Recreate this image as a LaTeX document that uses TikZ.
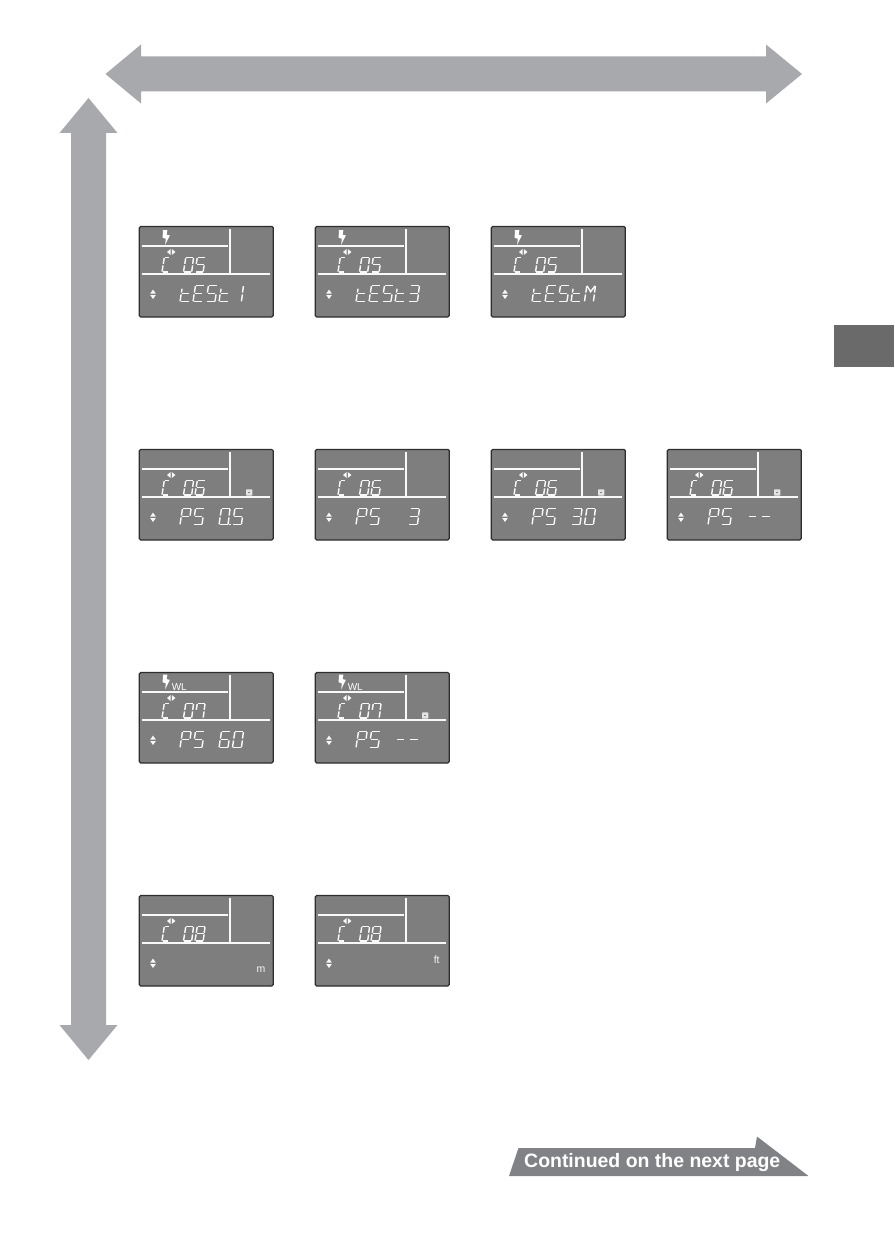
\documentclass[tikz,border=0pt]{standalone}
\usepackage{fontspec}
\setmainfont{Liberation Sans}
\definecolor{bigarrow}{HTML}{A7A9AC}
\definecolor{lcd}{HTML}{7E7E7E}
\definecolor{lcdedge}{HTML}{2E2E2E}
\definecolor{lcdline}{HTML}{F8F8F8}
\definecolor{nextarrow}{HTML}{808285}
\definecolor{tabgrey}{HTML}{6A6A6B}
\definecolor{cmarkfill}{HTML}{E4E4E4}
% segment cell: a top, b upper right, c lower right, d bottom, e lower left, f upper left, g middle
\newcommand{\segA}{\draw[segline] (2.6,0) -- (9.6,0);}
\newcommand{\segB}{\draw[segline] (10,.6) -- (9.2,6.4);}
\newcommand{\segC}{\draw[segline] (9.1,8) -- (8.2,14.2);}
\newcommand{\segD}{\draw[segline] (.8,14.6) -- (7.8,14.6);}
\newcommand{\segE}{\draw[segline] (1,8) -- (.1,14.2);}
\newcommand{\segF}{\draw[segline] (2.2,.6) -- (1.3,6.4);}
\newcommand{\segG}{\draw[segline] (1.8,7.2) -- (8.6,7.2);}
\newcommand{\glyph}[3]{\begin{scope}[shift={(#1,#2)}]#3\end{scope}}
\newcommand{\bigglyph}[3]{\begin{scope}[shift={(#1,#2)},xscale=1.1,yscale=1.12]#3\end{scope}}
\newcommand{\gZero}{\segA\segB\segC\segD\segE\segF}
\newcommand{\gOne}{\segB\segC}
\newcommand{\gThree}{\segA\segB\segC\segD\segG}
\newcommand{\gFive}{\segA\segC\segD\segF\segG}
\newcommand{\gSix}{\segA\segC\segD\segE\segF\segG}
\newcommand{\gSeven}{\segA\segB\segC\segF}
\newcommand{\gEight}{\segA\segB\segC\segD\segE\segF\segG}
\newcommand{\gE}{\segA\segD\segE\segF\segG}
\newcommand{\gT}{\segD\segE\draw[segline] (1.9,3) -- (1.3,6.4);\segG}
\newcommand{\gP}{\segA\segB\segE\segF\segG}
\newcommand{\gM}{\segB\segC\segE\segF\draw[segline] (2.4,.4) -- (5.6,5.6) -- (9.8,.4);}
\newcommand{\gDash}{\segG}
\newcommand{\gZeroDot}{\gZero\fill[lcdline] (9.2,13.7) rectangle (10.6,15.1);}
% narrow C
\newcommand{\gC}{\draw[segline] (7,0) -- (2.6,0); \segF \segE \draw[segline] (.8,14.6) -- (6,14.6);}
% panel: #1 x, #2 y, #3 number glyph 1, #4 number glyph 2, #5 name
\newcommand{\panel}[5]{%
\begin{scope}[shift={(#1,#2)}]
\node[lcdbox,anchor=north west] (#5) at (.3,.4) {};
\draw[lcdrule] (3,20) -- (89,20);
\draw[lcdrule] (3,48) -- (131,48);
\draw[lcdrule] (91,3) -- (91,47);
\fill[lcdline] (28,26) -- (31.6,23) -- (31.6,29) -- cycle;
\fill[lcdline] (36.4,26) -- (32.8,23) -- (32.8,29) -- cycle;
\fill[lcdline] (14,63.6) -- (11.2,67.6) -- (16.8,67.6) -- cycle;
\fill[lcdline] (14,73) -- (11.2,69) -- (16.8,69) -- cycle;
\glyph{23}{31.4}{\gC}
\glyph{44.5}{31.4}{#3}
\glyph{56}{31.4}{#4}
\end{scope}}
\newcommand{\flash}[2]{\begin{scope}[shift={(#1,#2)}]
\fill[white] (24,4) -- (28.4,4) -- (27.6,8.6) -- (30.8,9.4) -- (26.2,18.6) -- (26.8,12.8) -- (23.6,11.8) -- cycle;
\end{scope}}
\newcommand{\wl}[2]{\node[anchor=west,inner sep=0pt,text=white,font=\fontsize{10}{10}\selectfont] (wl#1#2) at (#1+32.6,#2+15) {WL};}
\newcommand{\cmark}[2]{\begin{scope}[shift={(#1,#2)}]
\fill[cmarkfill,rounded corners=.8] (107,40.3) rectangle (113.4,46.7);
\fill[lcd] (109.4,42.7) rectangle (111,44.3);
\end{scope}}
\newcommand{\cells}[7]{\begin{scope}[shift={(#1,#2)}]
\bigglyph{41}{59.4}{#3}\bigglyph{54}{59.4}{#4}\bigglyph{67}{59.4}{#5}\bigglyph{80}{59.4}{#6}\bigglyph{93.4}{59.4}{#7}
\end{scope}}
\tikzset{
 segline/.style={draw=lcdline,line width=1.45pt,line cap=butt},
 lcdrule/.style={draw=lcdline,line width=1.05pt},
 lcdbox/.style={draw=lcdedge,fill=lcd,line width=1.2pt,rounded corners=1.5pt,minimum width=134pt,minimum height=90.6pt,inner sep=0pt,outer sep=0pt},
 bigfill/.style={fill=bigarrow},
 unitlabel/.style={inner sep=0pt,text=lcdline,font=\fontsize{10.5}{11}\selectfont},
}
\begin{document}
\begin{tikzpicture}[x=1pt,y=-1pt]
\useasboundingbox (0,0) rectangle (894,1260);
\fill[white] (0,0) rectangle (894,1260);
% big arrows
\fill[bigfill] (105.5,74) -- (141,44.5) -- (141,56.5) -- (766,56.5) -- (766,44.5) -- (802,74) -- (766,103.5) -- (766,91.5) -- (141,91.5) -- (141,103.5) -- cycle;
\fill[bigfill] (88.5,98) -- (117.5,133) -- (106,133) -- (106,1025) -- (117.5,1025) -- (88.5,1060) -- (59.5,1025) -- (71,1025) -- (71,133) -- (59.5,133) -- cycle;
% side tab
\fill[tabgrey] (834,325) rectangle (894,367);
% row 1
\panel{139}{226}{\gZero}{\gFive}{p11}\flash{139}{226}
\cells{139}{226}{\gT}{\gE}{\gFive}{\gT}{\gOne}
\panel{315}{226}{\gZero}{\gFive}{p12}\flash{315}{226}
\cells{315}{226}{\gT}{\gE}{\gFive}{\gT}{\gThree}
\panel{491}{226}{\gZero}{\gFive}{p13}\flash{491}{226}
\cells{491}{226}{\gT}{\gE}{\gFive}{\gT}{\gM}
% row 2
\panel{139}{449}{\gZero}{\gSix}{p21}\cmark{139}{449}
\cells{139}{449}{\gP}{\gFive}{}{\gZeroDot}{\gFive}
\panel{315}{449}{\gZero}{\gSix}{p22}
\cells{315}{449}{\gP}{\gFive}{}{}{\gThree}
\panel{491}{449}{\gZero}{\gSix}{p23}\cmark{491}{449}
\cells{491}{449}{\gP}{\gFive}{}{\gThree}{\gZero}
\panel{667}{449}{\gZero}{\gSix}{p24}\cmark{667}{449}
\cells{667}{449}{\gP}{\gFive}{}{\gDash}{\gDash}
% row 3
\panel{139}{672}{\gZero}{\gSeven}{p31}\flash{139}{670.5}\wl{139}{672}
\cells{139}{672}{\gP}{\gFive}{}{\gSix}{\gZero}
\panel{315}{672}{\gZero}{\gSeven}{p32}\flash{315}{670.5}\wl{315}{672}\cmark{315}{672}
\cells{315}{672}{\gP}{\gFive}{}{\gDash}{\gDash}
% row 4
\panel{139}{895}{\gZero}{\gEight}{p41}
\node[unitlabel] (um) at (261,970) {m};
\panel{315}{895}{\gZero}{\gEight}{p42}
\node[unitlabel] (uft) at (436.7,959.7) {ft};
% continued arrow
\fill[nextarrow] (509,1176) -- (518.5,1148) -- (755,1148) -- (757,1136.5) -- (808.5,1176) -- cycle;
\node[anchor=west,inner sep=0pt,text=white,font=\bfseries\fontsize{19.45}{20}\selectfont] (cont) at (524,1162.5) {Continued on the next page};
\end{tikzpicture}
\end{document}
